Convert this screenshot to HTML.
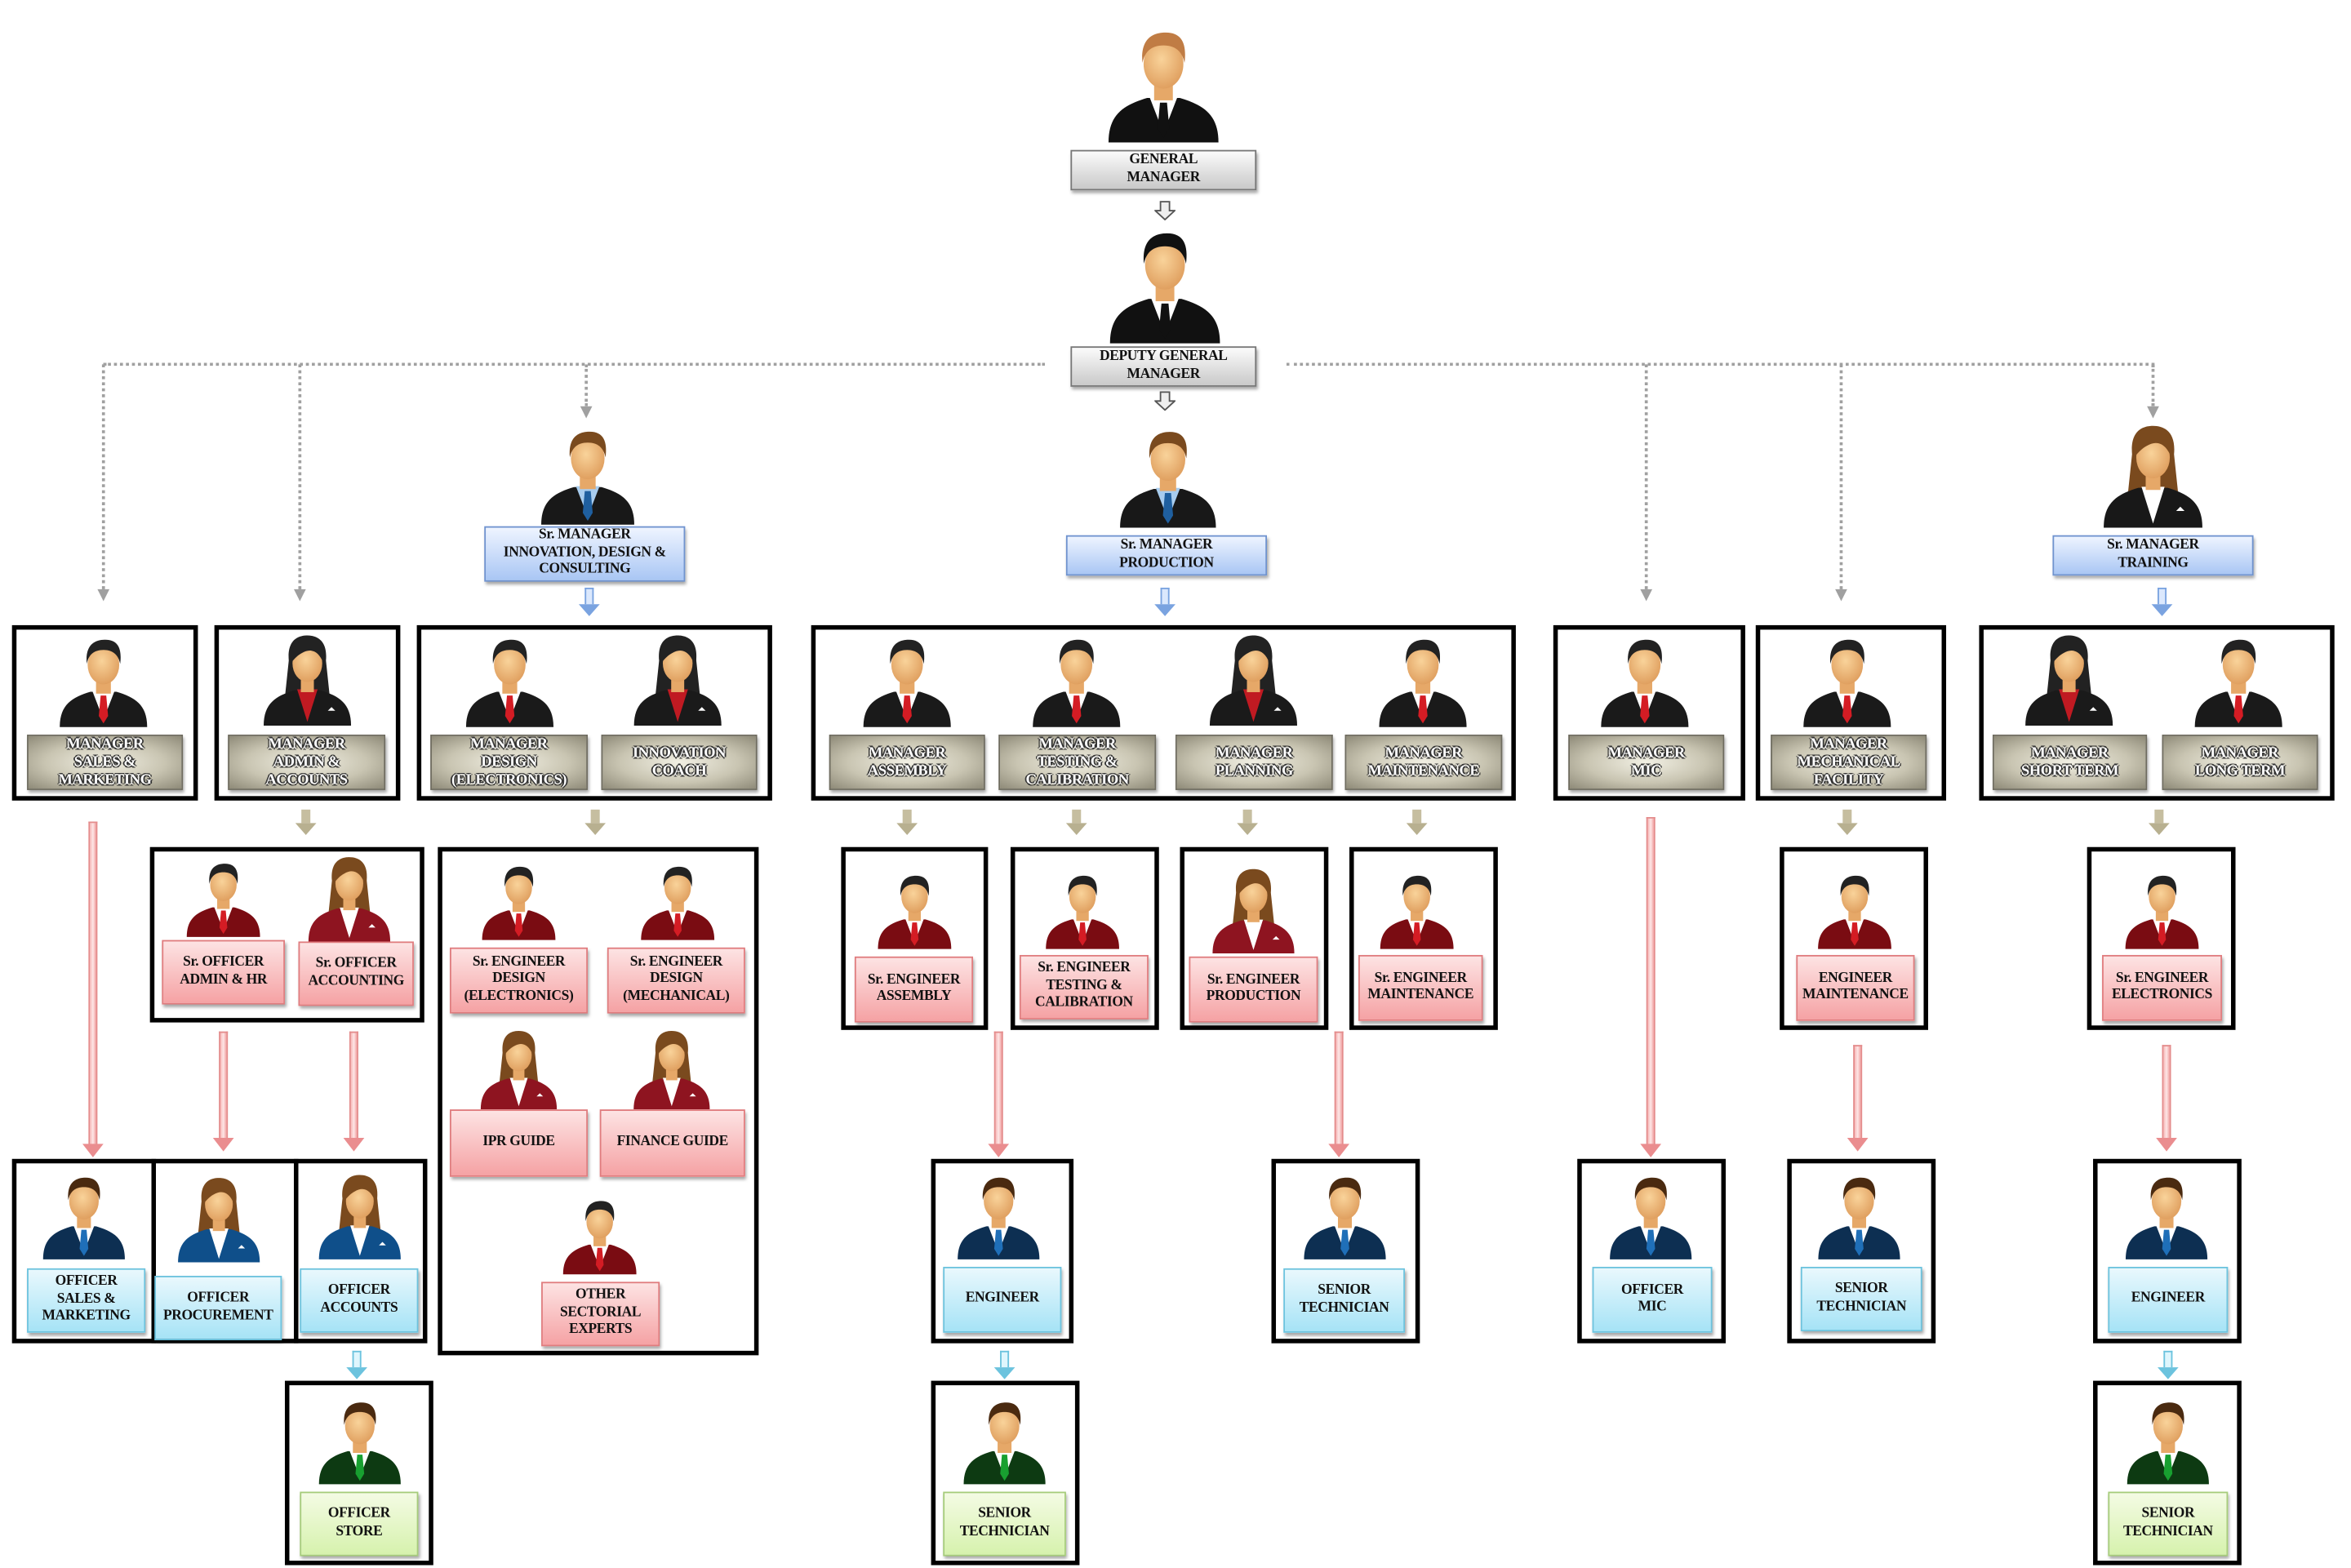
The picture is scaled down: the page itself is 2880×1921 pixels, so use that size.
<!DOCTYPE html>
<html><head><meta charset="utf-8">
<style>
html,body{margin:0;padding:0;background:#fff;width:2880px;height:1920px;overflow:hidden}
#w{position:absolute;left:0;top:0;width:1568px;height:1046px;transform:scale(1.8367);transform-origin:0 0}
#w *{position:absolute;box-sizing:border-box}
.bx{border:3px solid #000;background:#fff}
.l{display:flex;align-items:center;justify-content:center;text-align:center;font-family:"Liberation Serif",serif;font-weight:bold;font-size:9.5px;line-height:1.2;color:#111;box-shadow:1px 2px 2px rgba(0,0,0,.35);letter-spacing:-.2px}
.g{background:linear-gradient(#fbfbfb,#c9c9c9);border:1px solid #777}
.b{background:linear-gradient(#eef4ff,#a9c6f4);border:1px solid #6f93cf}
.k{background:radial-gradient(ellipse at center,#f2f0e4 0%,#c9c5b2 55%,#8e8a78 100%);border:1px solid #6e6b5e;color:#fff;text-shadow:-1px 0 0 #333,1px 0 0 #333,0 -1px 0 #333,0 1px 0 #333;font-size:10px}
.r{background:linear-gradient(#fde3e3,#f5a2a4);border:1px solid #e07c7e}
.c{background:linear-gradient(#e9f8fd,#a6e3f6);border:1px solid #6cc3de}
.n{background:linear-gradient(#f4fbe4,#d6f2ad);border:1px solid #a6cc7a}
.p{overflow:visible}
.dh{border-top:2px dotted #a0a0a0;height:0}
.dv{border-left:2px dotted #a0a0a0;width:0}
.dv::after{content:"";position:absolute;left:-5px;bottom:-8px;border-left:4px solid transparent;border-right:4px solid transparent;border-top:8px solid #a0a0a0}
.pa{width:6px;background:linear-gradient(90deg,#f7b8b8,#fde6e6,#f2a3a3);border:1px solid #e48c8c;border-bottom:none}
.pa::after{content:"";position:absolute;left:-5px;bottom:-8px;border-left:7px solid transparent;border-right:7px solid transparent;border-top:9px solid #ea8d8f}
.ta{width:6px;height:9px;background:#c6bea0}
.ta::after{content:"";position:absolute;left:-4px;top:9px;border-left:7px solid transparent;border-right:7px solid transparent;border-top:8px solid #b8b090}
.ba{width:6px;height:11px;background:#dbe8fd;border:1px solid #7aa3e0;border-bottom:none}
.ba::after{content:"";position:absolute;left:-5px;top:10px;border-left:7px solid transparent;border-right:7px solid transparent;border-top:8px solid #7aa3e0}
.ca{width:6px;height:11px;background:#dff6fd;border:1px solid #6cc3de;border-bottom:none}
.ca::after{content:"";position:absolute;left:-5px;top:10px;border-left:7px solid transparent;border-right:7px solid transparent;border-top:8px solid #6cc3de}
</style></head><body>
<svg width="0" height="0" style="position:absolute">
<defs>
<radialGradient id="sk" cx="45%" cy="40%" r="60%"><stop offset="0" stop-color="#f9d39a"/><stop offset="1" stop-color="#e0a060"/></radialGradient>
<symbol id="m" viewBox="0 0 100 100">
<path d="M3,100 C3,76 16,68 36,62 L64,62 C84,68 97,76 97,100 Z" style="fill:var(--s)"/>
<polygon points="38,61 50,92 62,61" style="fill:var(--sh,#fff)"/>
<polygon points="47,66 53,66 55,88 50,96 45,88" style="fill:var(--t)"/>
<rect x="42" y="48" width="16" height="16" fill="#e6a868"/>
<ellipse cx="50" cy="33" rx="17" ry="21" fill="url(#sk)"/>
<path d="M32,32 C30,10 42,6 52,6 C66,6 70,16 68,32 C66,22 60,17 50,17 C40,17 34,22 32,32 Z" style="fill:var(--h,#222)"/>
</symbol>
<symbol id="f" viewBox="0 0 100 100">
<path d="M30,30 C28,6 42,3 50,3 C60,3 72,8 70,30 L74,68 L26,68 Z" style="fill:var(--h,#222)"/>
<path d="M3,100 C3,76 16,68 36,62 L64,62 C84,68 97,76 97,100 Z" style="fill:var(--s)"/>
<polygon points="39,61 50,96 61,61" style="fill:var(--sh,#fff)"/>
<polygon points="72,84 80,84 76,80" fill="#fff"/>
<rect x="43" y="48" width="14" height="16" fill="#e6a868"/>
<ellipse cx="50" cy="33" rx="16" ry="20" fill="url(#sk)"/>
<path d="M33,32 C32,12 42,8 50,8 C62,8 68,14 67,32 C62,20 54,16 44,22 C40,24 36,28 33,32 Z" style="fill:var(--h,#222)"/>
</symbol>
</defs></svg>
<div id="w">
<svg class="p" style="left:737px;top:16px;width:78px;height:80px"><use href="#m" style="--s:#111;--t:#111;--h:#c07c44"/></svg>
<div class="l g" style="left:714px;top:100px;width:124px;height:27px">GENERAL<br>MANAGER</div>
<svg style="left:770px;top:134px;width:14px;height:13px"><path d="M4,0.5h6v6h3.5L7,12.5L0.5,6.5H4Z" fill="#eee" stroke="#555"/></svg>
<svg class="p" style="left:738px;top:150px;width:78px;height:80px"><use href="#m" style="--s:#111;--t:#111;--h:#111"/></svg>
<div class="l g" style="left:714px;top:231px;width:124px;height:27px">DEPUTY GENERAL<br>MANAGER</div>
<svg style="left:770px;top:261px;width:14px;height:13px"><path d="M4,0.5h6v6h3.5L7,12.5L0.5,6.5H4Z" fill="#eee" stroke="#555"/></svg>
<div class="dh" style="left:69px;top:242px;width:628px"></div>
<div class="dh" style="left:858px;top:242px;width:579px"></div>
<div class="dv" style="left:68px;top:243px;height:150px"></div>
<div class="dv" style="left:199px;top:243px;height:150px"></div>
<div class="dv" style="left:390px;top:243px;height:28px"></div>
<div class="dv" style="left:1097px;top:243px;height:150px"></div>
<div class="dv" style="left:1227px;top:243px;height:150px"></div>
<div class="dv" style="left:1435px;top:243px;height:28px"></div>
<svg class="p" style="left:358px;top:284px;width:68px;height:66px"><use href="#m" style="--s:#181818;--t:#1f5f9f;--sh:#a8ccee;--h:#7a4a1e"/></svg>
<div class="l b" style="left:323px;top:351px;width:134px;height:37px">Sr. MANAGER<br>INNOVATION, DESIGN &amp;<br>CONSULTING</div>
<svg class="p" style="left:745px;top:282px;width:68px;height:72px"><use href="#m" style="--s:#181818;--t:#1f5f9f;--sh:#a8ccee;--h:#7a4a1e"/></svg>
<div class="l b" style="left:711px;top:357px;width:134px;height:27px">Sr. MANAGER<br>PRODUCTION</div>
<svg class="p" style="left:1401px;top:280px;width:70px;height:74px"><use href="#f" style="--s:#181818;--h:#7a4a1e"/></svg>
<div class="l b" style="left:1369px;top:357px;width:134px;height:27px">Sr. MANAGER<br>TRAINING</div>
<div class="ba" style="left:390px;top:392px"></div>
<div class="ba" style="left:774px;top:392px"></div>
<div class="ba" style="left:1439px;top:392px"></div>
<div class="bx" style="left:8px;top:417px;width:124px;height:117px"></div>
<div class="bx" style="left:143px;top:417px;width:124px;height:117px"></div>
<div class="bx" style="left:278px;top:417px;width:237px;height:117px"></div>
<div class="bx" style="left:541px;top:417px;width:470px;height:117px"></div>
<div class="bx" style="left:1036px;top:417px;width:128px;height:117px"></div>
<div class="bx" style="left:1171px;top:417px;width:127px;height:117px"></div>
<div class="bx" style="left:1320px;top:417px;width:237px;height:117px"></div>
<svg class="p" style="left:38px;top:422px;width:62px;height:64px"><use href="#m" style="--s:#1a1a1a;--t:#d41c24"/></svg>
<svg class="p" style="left:174px;top:420px;width:62px;height:66px"><use href="#f" style="--s:#1a1a1a;--sh:#c01a22"/></svg>
<svg class="p" style="left:309px;top:422px;width:62px;height:64px"><use href="#m" style="--s:#1a1a1a;--t:#d41c24"/></svg>
<svg class="p" style="left:421px;top:420px;width:62px;height:66px"><use href="#f" style="--s:#1a1a1a;--sh:#c01a22"/></svg>
<svg class="p" style="left:574px;top:422px;width:62px;height:64px"><use href="#m" style="--s:#1a1a1a;--t:#d41c24"/></svg>
<svg class="p" style="left:687px;top:422px;width:62px;height:64px"><use href="#m" style="--s:#1a1a1a;--t:#d41c24"/></svg>
<svg class="p" style="left:805px;top:420px;width:62px;height:66px"><use href="#f" style="--s:#1a1a1a;--sh:#c01a22"/></svg>
<svg class="p" style="left:918px;top:422px;width:62px;height:64px"><use href="#m" style="--s:#1a1a1a;--t:#d41c24"/></svg>
<svg class="p" style="left:1066px;top:422px;width:62px;height:64px"><use href="#m" style="--s:#1a1a1a;--t:#d41c24"/></svg>
<svg class="p" style="left:1201px;top:422px;width:62px;height:64px"><use href="#m" style="--s:#1a1a1a;--t:#d41c24"/></svg>
<svg class="p" style="left:1349px;top:420px;width:62px;height:66px"><use href="#f" style="--s:#1a1a1a;--sh:#c01a22"/></svg>
<svg class="p" style="left:1462px;top:422px;width:62px;height:64px"><use href="#m" style="--s:#1a1a1a;--t:#d41c24"/></svg>
<div class="l k" style="left:18px;top:490px;width:104px;height:37px">MANAGER<br>SALES &amp;<br>MARKETING</div>
<div class="l k" style="left:152px;top:490px;width:105px;height:37px">MANAGER<br>ADMIN &amp;<br>ACCOUNTS</div>
<div class="l k" style="left:287px;top:490px;width:105px;height:37px">MANAGER<br>DESIGN<br>(ELECTRONICS)</div>
<div class="l k" style="left:401px;top:490px;width:104px;height:37px">INNOVATION<br>COACH</div>
<div class="l k" style="left:553px;top:490px;width:104px;height:37px">MANAGER<br>ASSEMBLY</div>
<div class="l k" style="left:666px;top:490px;width:105px;height:37px">MANAGER<br>TESTING &amp;<br>CALIBRATION</div>
<div class="l k" style="left:784px;top:490px;width:105px;height:37px">MANAGER<br>PLANNING</div>
<div class="l k" style="left:897px;top:490px;width:105px;height:37px">MANAGER<br>MAINTENANCE</div>
<div class="l k" style="left:1046px;top:490px;width:104px;height:37px">MANAGER<br>MIC</div>
<div class="l k" style="left:1181px;top:490px;width:104px;height:37px">MANAGER<br>MECHANICAL<br>FACILITY</div>
<div class="l k" style="left:1329px;top:490px;width:103px;height:37px">MANAGER<br>SHORT TERM</div>
<div class="l k" style="left:1442px;top:490px;width:104px;height:37px">MANAGER<br>LONG TERM</div>
<div class="ta" style="left:201px;top:540px"></div>
<div class="ta" style="left:394px;top:540px"></div>
<div class="ta" style="left:602px;top:540px"></div>
<div class="ta" style="left:715px;top:540px"></div>
<div class="ta" style="left:829px;top:540px"></div>
<div class="ta" style="left:942px;top:540px"></div>
<div class="ta" style="left:1229px;top:540px"></div>
<div class="ta" style="left:1437px;top:540px"></div>
<div class="bx" style="left:100px;top:565px;width:183px;height:117px"></div>
<div class="bx" style="left:292px;top:565px;width:214px;height:339px"></div>
<div class="bx" style="left:561px;top:565px;width:98px;height:122px"></div>
<div class="bx" style="left:674px;top:565px;width:99px;height:122px"></div>
<div class="bx" style="left:787px;top:565px;width:99px;height:122px"></div>
<div class="bx" style="left:900px;top:565px;width:99px;height:122px"></div>
<div class="bx" style="left:1187px;top:565px;width:99px;height:122px"></div>
<div class="bx" style="left:1392px;top:565px;width:99px;height:122px"></div>
<svg class="p" style="left:123px;top:572px;width:52px;height:54px"><use href="#m" style="--s:#7a0c12;--t:#d41c24"/></svg>
<svg class="p" style="left:203px;top:570px;width:60px;height:58px"><use href="#f" style="--s:#8e1420;--h:#7a4a1e"/></svg>
<svg class="p" style="left:320px;top:572px;width:52px;height:58px"><use href="#m" style="--s:#7a0c12;--t:#d41c24"/></svg>
<svg class="p" style="left:426px;top:572px;width:52px;height:58px"><use href="#m" style="--s:#7a0c12;--t:#d41c24"/></svg>
<svg class="p" style="left:312px;top:686px;width:68px;height:54px"><use href="#f" style="--s:#8e1420;--h:#7a4a1e"/></svg>
<svg class="p" style="left:414px;top:686px;width:68px;height:54px"><use href="#f" style="--s:#8e1420;--h:#7a4a1e"/></svg>
<svg class="p" style="left:374px;top:795px;width:52px;height:58px"><use href="#m" style="--s:#7a0c12;--t:#d41c24"/></svg>
<svg class="p" style="left:584px;top:578px;width:52px;height:58px"><use href="#m" style="--s:#7a0c12;--t:#d41c24"/></svg>
<svg class="p" style="left:696px;top:578px;width:52px;height:58px"><use href="#m" style="--s:#7a0c12;--t:#d41c24"/></svg>
<svg class="p" style="left:806px;top:578px;width:60px;height:58px"><use href="#f" style="--s:#8e1420;--h:#7a4a1e"/></svg>
<svg class="p" style="left:919px;top:578px;width:52px;height:58px"><use href="#m" style="--s:#7a0c12;--t:#d41c24"/></svg>
<svg class="p" style="left:1211px;top:578px;width:52px;height:58px"><use href="#m" style="--s:#7a0c12;--t:#d41c24"/></svg>
<svg class="p" style="left:1416px;top:578px;width:52px;height:58px"><use href="#m" style="--s:#7a0c12;--t:#d41c24"/></svg>
<div class="l r" style="left:108px;top:627px;width:82px;height:43px">Sr. OFFICER<br>ADMIN &amp; HR</div>
<div class="l r" style="left:199px;top:628px;width:77px;height:43px">Sr. OFFICER<br>ACCOUNTING</div>
<div class="l r" style="left:300px;top:632px;width:92px;height:44px">Sr. ENGINEER<br>DESIGN<br>(ELECTRONICS)</div>
<div class="l r" style="left:405px;top:632px;width:92px;height:44px">Sr. ENGINEER<br>DESIGN<br>(MECHANICAL)</div>
<div class="l r" style="left:300px;top:740px;width:92px;height:45px">IPR GUIDE</div>
<div class="l r" style="left:400px;top:740px;width:97px;height:45px">FINANCE GUIDE</div>
<div class="l r" style="left:361px;top:855px;width:79px;height:43px">OTHER<br>SECTORIAL<br>EXPERTS</div>
<div class="l r" style="left:570px;top:638px;width:79px;height:44px">Sr. ENGINEER<br>ASSEMBLY</div>
<div class="l r" style="left:680px;top:637px;width:86px;height:43px">Sr. ENGINEER<br>TESTING &amp;<br>CALIBRATION</div>
<div class="l r" style="left:793px;top:638px;width:86px;height:44px">Sr. ENGINEER<br>PRODUCTION</div>
<div class="l r" style="left:906px;top:637px;width:83px;height:44px">Sr. ENGINEER<br>MAINTENANCE</div>
<div class="l r" style="left:1198px;top:637px;width:79px;height:44px">ENGINEER<br>MAINTENANCE</div>
<div class="l r" style="left:1402px;top:637px;width:80px;height:44px">Sr. ENGINEER<br>ELECTRONICS</div>
<div class="pa" style="left:59px;top:548px;height:216px"></div>
<div class="pa" style="left:146px;top:688px;height:72px"></div>
<div class="pa" style="left:233px;top:688px;height:72px"></div>
<div class="pa" style="left:663px;top:688px;height:76px"></div>
<div class="pa" style="left:890px;top:688px;height:76px"></div>
<div class="pa" style="left:1098px;top:545px;height:219px"></div>
<div class="pa" style="left:1236px;top:697px;height:63px"></div>
<div class="pa" style="left:1442px;top:697px;height:63px"></div>
<div class="bx" style="left:8px;top:773px;width:96px;height:123px"></div>
<div class="bx" style="left:101px;top:773px;width:98px;height:123px"></div>
<div class="bx" style="left:196px;top:773px;width:89px;height:123px"></div>
<div class="bx" style="left:621px;top:773px;width:95px;height:123px"></div>
<div class="bx" style="left:848px;top:773px;width:99px;height:123px"></div>
<div class="bx" style="left:1052px;top:773px;width:99px;height:123px"></div>
<div class="bx" style="left:1192px;top:773px;width:99px;height:123px"></div>
<div class="bx" style="left:1396px;top:773px;width:99px;height:123px"></div>
<svg class="p" style="left:27px;top:778px;width:58px;height:66px"><use href="#m" style="--s:#0d2f52;--t:#1f6fb8;--h:#4a2a10"/></svg>
<svg class="p" style="left:117px;top:780px;width:58px;height:66px"><use href="#f" style="--s:#0f4f8a;--h:#7a4a1e"/></svg>
<svg class="p" style="left:211px;top:778px;width:58px;height:66px"><use href="#f" style="--s:#0f4f8a;--h:#7a4a1e"/></svg>
<svg class="p" style="left:637px;top:778px;width:58px;height:66px"><use href="#m" style="--s:#0d2f52;--t:#1f6fb8;--h:#4a2a10"/></svg>
<svg class="p" style="left:868px;top:778px;width:58px;height:66px"><use href="#m" style="--s:#0d2f52;--t:#1f6fb8;--h:#4a2a10"/></svg>
<svg class="p" style="left:1072px;top:778px;width:58px;height:66px"><use href="#m" style="--s:#0d2f52;--t:#1f6fb8;--h:#4a2a10"/></svg>
<svg class="p" style="left:1211px;top:778px;width:58px;height:66px"><use href="#m" style="--s:#0d2f52;--t:#1f6fb8;--h:#4a2a10"/></svg>
<svg class="p" style="left:1416px;top:778px;width:58px;height:66px"><use href="#m" style="--s:#0d2f52;--t:#1f6fb8;--h:#4a2a10"/></svg>
<div class="l c" style="left:18px;top:846px;width:79px;height:43px">OFFICER<br>SALES &amp;<br>MARKETING</div>
<div class="l c" style="left:103px;top:851px;width:85px;height:43px">OFFICER<br>PROCUREMENT</div>
<div class="l c" style="left:200px;top:846px;width:79px;height:43px">OFFICER<br>ACCOUNTS</div>
<div class="l c" style="left:629px;top:845px;width:79px;height:44px">ENGINEER</div>
<div class="l c" style="left:856px;top:846px;width:81px;height:43px">SENIOR<br>TECHNICIAN</div>
<div class="l c" style="left:1062px;top:845px;width:80px;height:44px">OFFICER<br>MIC</div>
<div class="l c" style="left:1201px;top:845px;width:81px;height:43px">SENIOR<br>TECHNICIAN</div>
<div class="l c" style="left:1406px;top:845px;width:80px;height:44px">ENGINEER</div>
<div class="ca" style="left:235px;top:901px"></div>
<div class="ca" style="left:667px;top:901px"></div>
<div class="ca" style="left:1443px;top:901px"></div>
<div class="bx" style="left:190px;top:921px;width:99px;height:123px"></div>
<div class="bx" style="left:621px;top:921px;width:99px;height:123px"></div>
<div class="bx" style="left:1396px;top:921px;width:99px;height:123px"></div>
<svg class="p" style="left:211px;top:928px;width:58px;height:66px"><use href="#m" style="--s:#0d3a12;--t:#18a030;--h:#4a2a10"/></svg>
<svg class="p" style="left:641px;top:928px;width:58px;height:66px"><use href="#m" style="--s:#0d3a12;--t:#18a030;--h:#4a2a10"/></svg>
<svg class="p" style="left:1417px;top:928px;width:58px;height:66px"><use href="#m" style="--s:#0d3a12;--t:#18a030;--h:#4a2a10"/></svg>
<div class="l n" style="left:200px;top:995px;width:79px;height:43px">OFFICER<br>STORE</div>
<div class="l n" style="left:629px;top:995px;width:82px;height:43px">SENIOR<br>TECHNICIAN</div>
<div class="l n" style="left:1406px;top:995px;width:80px;height:43px">SENIOR<br>TECHNICIAN</div>
</div>
</body></html>
